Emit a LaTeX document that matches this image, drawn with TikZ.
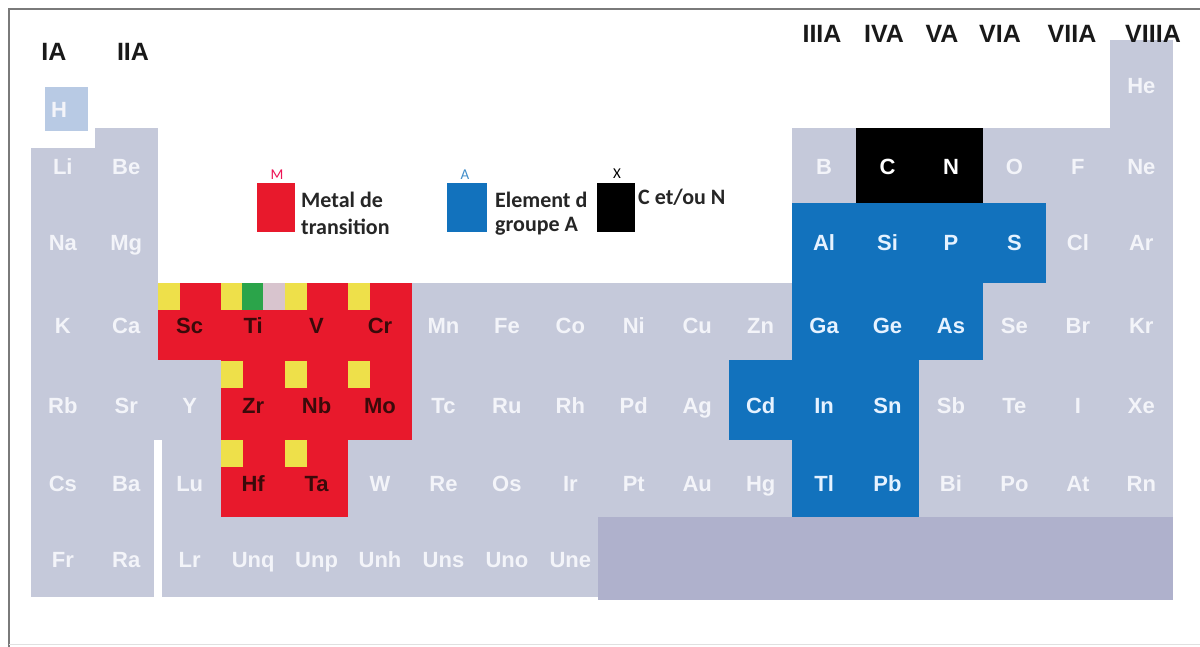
\documentclass[tikz,border=0pt]{standalone}
\usepackage{fontspec}
\setmainfont{Liberation Sans}
\newfontfamily\legfont{Carlito}
\definecolor{cellgray}{HTML}{C5C9DA}
\definecolor{darkblock}{HTML}{AFB1CC}
\definecolor{tred}{HTML}{E8192C}
\definecolor{tblue}{HTML}{1272BD}
\definecolor{tyellow}{HTML}{EEE04A}
\definecolor{tgreen}{HTML}{2BA44A}
\definecolor{tpink}{HTML}{D8C4CE}
\definecolor{hbox}{HTML}{B8CAE4}
\definecolor{framegray}{HTML}{7A7A7A}
\definecolor{gtext}{HTML}{F3F4F9}
\definecolor{rtext}{HTML}{3A0A0A}
\definecolor{btext}{HTML}{E6F2FF}
\definecolor{legtext}{HTML}{262626}
\tikzset{
  gtxt/.style={font=\fontsize{22}{22}\selectfont\bfseries, text=gtext, inner sep=0pt, text height=16pt, text depth=0pt},
  rtxt/.style={gtxt, text=rtext},
  btxt/.style={gtxt, text=btext},
  ktxt/.style={gtxt, text=white},
  header/.style={font=\fontsize{25}{25}\selectfont\bfseries, text=black!90, inner sep=0pt, text height=18pt, text depth=0pt},
  legend/.style={font=\legfont\bfseries\fontsize{22}{22}\selectfont, text=legtext, inner sep=0pt, anchor=west},
  legsmall/.style={font=\legfont\fontsize{15}{15}\selectfont, inner sep=0pt},
  legsq/.style={minimum width=#1, minimum height=49pt, inner sep=0pt, anchor=north west},
}
\newcommand{\elm}[4][gtxt]{\node[#1] (e#4) at ({31.1+63.44*(#2-0.5)},#3) {#4};}
\begin{document}
\begin{tikzpicture}[x=1pt,y=-1pt]
\useasboundingbox (0,0) rectangle (1200,647);
\fill[white] (0,0) rectangle (1200,647);
% frame
\draw[framegray, line width=2.5pt] (9,647) -- (9,9) -- (1200,9);
\draw[black!12, line width=1pt] (9,644) -- (1200,644);
% gray body
\fill[cellgray] (31.1,148) rectangle (94.6,597);
\fill[cellgray] (94.6,128) rectangle (158,440);
\fill[cellgray] (94.6,440) rectangle (154,597);
\fill[cellgray] (158,283) rectangle (1173,440);
\fill[cellgray] (162,440) rectangle (1173,597);
\fill[cellgray] (792.4,128) rectangle (1173,283);
\fill[cellgray] (1109.6,40) rectangle (1173,128);
\fill[darkblock] (598,517) rectangle (1173,600);
\fill[hbox] (45,87) rectangle (88,131);
% transition metals
\fill[tred] (158,283) rectangle (411.7,360);
\fill[tred] (221.4,360) rectangle (411.7,440);
\fill[tred] (221.4,440) rectangle (348.3,517);
\foreach \x in {158,221.4,284.9,348.3} \fill[tyellow] (\x,283) rectangle ++(22,27);
\fill[tgreen] (242,283) rectangle (263,310);
\fill[tpink] (263,283) rectangle (284.9,310);
\foreach \x in {221.4,284.9,348.3} \fill[tyellow] (\x,361) rectangle ++(22,27);
\foreach \x in {221.4,284.9} \fill[tyellow] (\x,440) rectangle ++(22,27);
% group A
\fill[tblue] (792.4,203) rectangle (1046.2,283);
\fill[tblue] (792.4,283) rectangle (982.7,360);
\fill[tblue] (728.9,360) rectangle (919.3,440);
\fill[tblue] (792.4,440) rectangle (919.3,517);
% C and N
\fill[black] (855.8,128) rectangle (982.7,203);
% headers
\node[header] (hIA) at (54,52) {IA};
\node[header] (hIIA) at (133,52) {IIA};
\node[header] (hIIIA) at (822,34) {IIIA};
\node[header] (hIVA) at (884,34) {IVA};
\node[header] (hVA) at (942,34) {VA};
\node[header] (hVIA) at (1000,34) {VIA};
\node[header] (hVIIA) at (1072,34) {VIIA};
\node[header] (hVIIIA) at (1153,34) {VIIIA};
% legend
\node[legsq=38pt, fill=tred] (lM) at (257,183) {};
\node[legsmall, text=tred!80!magenta] (lMt) at (277,175) {M};
\node[legend] (lM1) at (301,200) {Metal de};
\node[legend] (lM2) at (301,227) {transition};
\node[legsq=40pt, fill=tblue] (lA) at (447,183) {};
\node[legsmall, text=tblue!80!white] (lAt) at (465,175) {A};
\node[legend] (lA1) at (495,200) {Element d};
\node[legend] (lA2) at (495,226) {groupe A};
\node[legsq=38pt, fill=black] (lX) at (597,183) {};
\node[legsmall, text=black] (lXt) at (617,174) {X};
\node[legend] (lX1) at (638,197) {C et/ou N};
% elements
\node[gtxt] (eH) at (59,110) {H};
\elm{18}{86}{He}
\elm{1}{167}{Li}\elm{2}{167}{Be}\elm{13}{167}{B}\elm[ktxt]{14}{167}{C}\elm[ktxt]{15}{167}{N}\elm{16}{167}{O}\elm{17}{167}{F}\elm{18}{167}{Ne}
\elm{1}{243}{Na}\elm{2}{243}{Mg}\elm[btxt]{13}{243}{Al}\elm[btxt]{14}{243}{Si}\elm[btxt]{15}{243}{P}\elm[btxt]{16}{243}{S}\elm{17}{243}{Cl}\elm{18}{243}{Ar}
\elm{1}{325}{K}\elm{2}{325}{Ca}\elm[rtxt]{3}{326}{Sc}\elm[rtxt]{4}{326}{Ti}\elm[rtxt]{5}{326}{V}\elm[rtxt]{6}{326}{Cr}
\elm{7}{325}{Mn}\elm{8}{325}{Fe}\elm{9}{325}{Co}\elm{10}{325}{Ni}\elm{11}{325}{Cu}\elm{12}{325}{Zn}
\elm[btxt]{13}{325}{Ga}\elm[btxt]{14}{325}{Ge}\elm[btxt]{15}{325}{As}\elm{16}{325}{Se}\elm{17}{325}{Br}\elm{18}{325}{Kr}
\elm{1}{405}{Rb}\elm{2}{405}{Sr}\elm{3}{405}{Y}\elm[rtxt]{4}{405}{Zr}\elm[rtxt]{5}{405}{Nb}\elm[rtxt]{6}{405}{Mo}
\elm{7}{405}{Tc}\elm{8}{405}{Ru}\elm{9}{405}{Rh}\elm{10}{405}{Pd}\elm{11}{405}{Ag}\elm[btxt]{12}{405}{Cd}
\elm[btxt]{13}{405}{In}\elm[btxt]{14}{405}{Sn}\elm{15}{405}{Sb}\elm{16}{405}{Te}\elm{17}{405}{I}\elm{18}{405}{Xe}
\elm{1}{483}{Cs}\elm{2}{483}{Ba}\elm{3}{483}{Lu}\elm[rtxt]{4}{483}{Hf}\elm[rtxt]{5}{483}{Ta}\elm{6}{483}{W}
\elm{7}{483}{Re}\elm{8}{483}{Os}\elm{9}{483}{Ir}\elm{10}{483}{Pt}\elm{11}{483}{Au}\elm{12}{483}{Hg}
\elm[btxt]{13}{483}{Tl}\elm[btxt]{14}{483}{Pb}\elm{15}{483}{Bi}\elm{16}{483}{Po}\elm{17}{483}{At}\elm{18}{483}{Rn}
\elm{1}{559}{Fr}\elm{2}{559}{Ra}\elm{3}{559}{Lr}\elm{4}{559}{Unq}\elm{5}{559}{Unp}\elm{6}{559}{Unh}\elm{7}{559}{Uns}\elm{8}{559}{Uno}\elm{9}{559}{Une}
\end{tikzpicture}
\end{document}
